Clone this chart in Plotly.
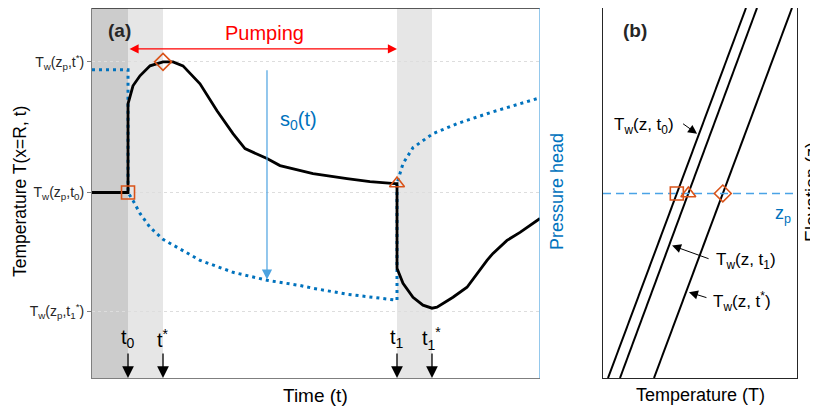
import plotly.graph_objects as go

# ---------------- Panel (a) data ----------------
time_black = [0, 8.04, 8.04, 8.48, 9.15, 10.71, 12.95, 15.85, 18.08, 20.31, 24.11, 27.90, 31.47,
              34.15, 39.06, 41.96, 46.43, 49.33, 56.92, 62.05, 67.63, 68.08, 68.08, 69.42, 71.65,
              73.88, 75.89, 77.01, 80.58, 83.71, 88.17, 89.51, 92.63, 95.54, 100]
temp_black = [50.13, 50.13, 74.12, 76.28, 78.98, 81.67, 84.37, 85.44, 85.44, 84.37, 79.51, 72.24, 66.04,
              62.00, 59.30, 57.41, 56.06, 55.26, 53.91, 53.10, 52.56, 52.56, 29.65, 25.61, 21.83,
              19.68, 18.87, 19.14, 21.83, 24.53, 31.81, 33.69, 37.20, 39.35, 43.13]

time_head = [0, 8.04, 8.04, 9.15, 10.71, 12.95, 15.85, 18.97, 24.11, 31.47, 39.06, 46.43, 49.33,
             56.92, 67.19, 68.08, 68.08, 69.42, 71.65, 76.12, 81.47, 88.84, 100]
head = [83.29, 83.29, 50.13, 47.98, 44.47, 40.70, 37.47, 35.31, 31.81, 28.57, 26.42, 25.0, 24.26,
        22.64, 21.02, 21.02, 52.56, 57.95, 62.26, 66.04, 68.73, 71.70, 75.74]

event_times = [8.04, 15.85, 68.08, 75.89]
event_labels = ["t<sub>0</sub>", "t<sup>*</sup>", "t<sub>1</sub>", "t<sub>1</sub><sup>*</sup>"]

tick_vals = [18.06, 50.13, 85.44]
tick_text = ["T<sub>w</sub>(z<sub>p</sub>,t<sub>1</sub><sup>*</sup>)",
             "T<sub>w</sub>(z<sub>p</sub>,t<sub>0</sub>)",
             "T<sub>w</sub>(z<sub>p</sub>,t<sup>*</sup>)"]

marker_t = [8.04, 15.85, 68.08]
marker_T = [50.13, 85.44, 52.56]
marker_symbols = ["square-open", "diamond-open", "triangle-up-open"]

# ---------------- Panel (b) data ----------------
elev = [0, 100]
profile_t0 = [2.58, 73.71]
profile_t1 = [8.76, 79.38]
profile_tstar = [26.29, 97.42]
z_p = 49.87

ORANGE = "#D95319"
BLUE = "#0072BD"
LBLUE = "#4DA3E0"
FONT = "Liberation Sans, Arial, sans-serif"

# The page body has an 8px margin: figure pixel = reference pixel - 8
W, H = 810, 402
ML, MT, MB = 84, 0, 32
MR = W - 789
PW = W - ML - MR          # 705
PH = H - MT - MB          # 370


def px_x(px):  # reference x pixel -> paper fraction
    return (px - 92) / PW


def px_y(py):  # reference y pixel -> paper fraction
    return (378 - py) / PH


fig = go.Figure()

fig.add_trace(go.Scatter(x=time_head, y=head, mode="lines",
                         line=dict(color=BLUE, width=3, dash="3px,4px"), xaxis="x", yaxis="y"))
fig.add_trace(go.Scatter(x=time_black, y=temp_black, mode="lines",
                         line=dict(color="black", width=2.8), xaxis="x", yaxis="y"))
for tx, ty, sym in zip(marker_t, marker_T, marker_symbols):
    fig.add_trace(go.Scatter(x=[tx], y=[ty], mode="markers",
                             marker=dict(symbol=sym, size=13, color=ORANGE,
                                         line=dict(color=ORANGE, width=1.6)),
                             xaxis="x", yaxis="y"))

for prof in (profile_t0, profile_t1, profile_tstar):
    fig.add_trace(go.Scatter(x=prof, y=elev, mode="lines",
                             line=dict(color="black", width=2), xaxis="x2", yaxis="y2"))
fig.add_trace(go.Scatter(x=[0, 100], y=[z_p, z_p], mode="lines",
                         line=dict(color="#4aa3e6", width=1.4, dash="8px,5px"), xaxis="x2", yaxis="y2"))


def at_zp(prof):
    return prof[0] + (prof[1] - prof[0]) * (z_p - elev[0]) / (elev[1] - elev[0])


fig.add_trace(go.Scatter(x=[at_zp(profile_t0), at_zp(profile_t1), at_zp(profile_tstar)],
                         y=[z_p, z_p, z_p], mode="markers",
                         marker=dict(symbol=["square-open", "triangle-up-open", "diamond-open"],
                                     size=13, color=ORANGE, line=dict(color=ORANGE, width=1.6)),
                         xaxis="x2", yaxis="y2"))

shapes = [
    dict(type="rect", xref="x", yref="y", x0=0, x1=event_times[0], y0=0, y1=100,
         fillcolor="#cccccc", line=dict(width=0), layer="below"),
    dict(type="rect", xref="x", yref="y", x0=event_times[0], x1=event_times[1], y0=0, y1=100,
         fillcolor="#e6e6e6", line=dict(width=0), layer="below"),
    dict(type="rect", xref="x", yref="y", x0=event_times[2], x1=event_times[3], y0=0, y1=100,
         fillcolor="#e6e6e6", line=dict(width=0), layer="below"),
    dict(type="line", xref="x", yref="y", x0=0, x1=100, y0=100, y1=100,
         line=dict(color="#262626", width=1.5)),
    dict(type="line", xref="x", yref="y", x0=100, x1=100, y0=0, y1=100,
         line=dict(color=LBLUE, width=1.2)),
]

C = dict(xanchor="center", yanchor="middle")

annotations = []
for tv, lab in zip(event_times, event_labels):
    annotations.append(dict(x=tv, y=0, ax=tv, ay=7.0, xref="x", yref="y", axref="x", ayref="y",
                            text="", showarrow=True, arrowhead=2, arrowsize=1.8, arrowwidth=1.3,
                            arrowcolor="black"))
    annotations.append(dict(x=tv, y=10.8, xref="x", yref="y", text=lab, showarrow=False,
                            font=dict(size=20, color="black", family=FONT), **C))

annotations.append(dict(x=event_times[2], y=88.95, ax=event_times[0], ay=88.95, xref="x", yref="y",
                        axref="x", ayref="y", text="", showarrow=True, arrowhead=2, startarrowhead=2,
                        arrowside="end+start", arrowsize=1.4, startarrowsize=1.4, arrowwidth=1.3,
                        arrowcolor="#FF0000"))
annotations.append(dict(x=38.4, y=93.3, xref="x", yref="y", text="Pumping", showarrow=False,
                        font=dict(size=20, color="#FF0000", family=FONT), **C))
annotations.append(dict(x=39.06, y=26.6, ax=39.06, ay=83.56, xref="x", yref="y", axref="x", ayref="y",
                        text="", showarrow=True, arrowhead=2, arrowsize=1.7, arrowwidth=1.2,
                        arrowcolor=LBLUE))
annotations.append(dict(x=46.2, y=69.6, xref="x", yref="y", text="s<sub>0</sub>(t)", showarrow=False,
                        font=dict(size=20, color=BLUE, family=FONT), **C))
annotations.append(dict(x=6.2, y=94.0, xref="x", yref="y", text="<b>(a)</b>", showarrow=False,
                        font=dict(size=19, color="#262626", family=FONT), **C))

annotations.append(dict(x=px_x(20), y=px_y(192), xref="paper", yref="paper",
                        text="Temperature T(x=R, t)", textangle=-90, showarrow=False,
                        font=dict(size=17.5, color="black", family=FONT), **C))
annotations.append(dict(x=px_x(315), y=px_y(395), xref="paper", yref="paper",
                        text="Time (t)", showarrow=False, font=dict(size=19, color="black", family=FONT), **C))
annotations.append(dict(x=px_x(557), y=px_y(192), xref="paper", yref="paper",
                        text="Pressure head", textangle=-90, showarrow=False,
                        font=dict(size=18, color=BLUE, family=FONT), **C))

annotations.append(dict(x=16.5, y=94.0, xref="x2", yref="y2", text="<b>(b)</b>", showarrow=False,
                        font=dict(size=19, color="#262626", family=FONT), **C))
annotations.append(dict(x=21.0, y=68.0, xref="x2", yref="y2", text="T<sub>w</sub>(z, t<sub>0</sub>)",
                        showarrow=False, font=dict(size=17, color="black", family=FONT), **C))
annotations.append(dict(x=48.5, y=66.0, ax=40.5, ay=69.0, xref="x2", yref="y2", axref="x2", ayref="y2",
                        text="", showarrow=True, arrowhead=2, arrowsize=1.8, arrowwidth=1,
                        arrowcolor="black"))
annotations.append(dict(x=73.5, y=31.6, xref="x2", yref="y2", text="T<sub>w</sub>(z, t<sub>1</sub>)",
                        showarrow=False, font=dict(size=17, color="black", family=FONT), **C))
annotations.append(dict(x=35.6, y=35.8, ax=55.2, ay=32.1, xref="x2", yref="y2", axref="x2", ayref="y2",
                        text="", showarrow=True, arrowhead=2, arrowsize=1.8, arrowwidth=1,
                        arrowcolor="black"))
annotations.append(dict(x=71.5, y=20.8, xref="x2", yref="y2", text="T<sub>w</sub>(z, t<sup>*</sup>)",
                        showarrow=False, font=dict(size=17, color="black", family=FONT), **C))
annotations.append(dict(x=44.3, y=23.2, ax=54.1, ay=21.6, xref="x2", yref="y2", axref="x2", ayref="y2",
                        text="", showarrow=True, arrowhead=2, arrowsize=1.8, arrowwidth=1,
                        arrowcolor="black"))
annotations.append(dict(x=92.8, y=44.2, xref="x2", yref="y2", text="z<sub>p</sub>", showarrow=False,
                        font=dict(size=18, color=BLUE, family=FONT), **C))
annotations.append(dict(x=px_x(700), y=px_y(395), xref="paper", yref="paper",
                        text="Temperature (T)", showarrow=False,
                        font=dict(size=18, color="black", family=FONT), **C))
annotations.append(dict(x=px_x(812), y=px_y(192), xref="paper", yref="paper",
                        text="Elevation (z)", textangle=-90, showarrow=False,
                        font=dict(size=18, color="black", family=FONT), **C))

fig.update_layout(
    width=W, height=H,
    margin=dict(l=ML, r=MR, t=MT, b=MB, pad=0),
    paper_bgcolor="white", plot_bgcolor="white",
    showlegend=False,
    font=dict(family=FONT, color="#262626"),
    xaxis=dict(domain=[0, (540 - 92) / PW], range=[0, 100], showticklabels=False, ticks="",
               showgrid=False, zeroline=False, showline=True, linecolor="#7f7f7f", linewidth=1,
               anchor="y"),
    yaxis=dict(domain=[0, 1], range=[0, 100], tickvals=tick_vals, ticktext=tick_text,
               ticks="outside", ticklen=4, tickcolor="#7f7f7f", showline=True, linecolor="#7f7f7f",
               showgrid=True, gridcolor="#dddddd", griddash="dot", gridwidth=1, zeroline=False,
               tickfont=dict(size=14, color="#262626", family=FONT), anchor="x"),
    xaxis2=dict(domain=[(603 - 92) / PW, 1], range=[0, 100], showticklabels=False, ticks="",
                showgrid=False, zeroline=False, showline=True, mirror=True, linecolor="#262626",
                linewidth=1, anchor="y2"),
    yaxis2=dict(domain=[0, 1], range=[0, 100], showticklabels=False, ticks="", showgrid=False,
                zeroline=False, showline=True, mirror=True, linecolor="#262626", linewidth=1,
                anchor="x2"),
    shapes=shapes,
    annotations=annotations,
)

fig.write_html("out.html")
